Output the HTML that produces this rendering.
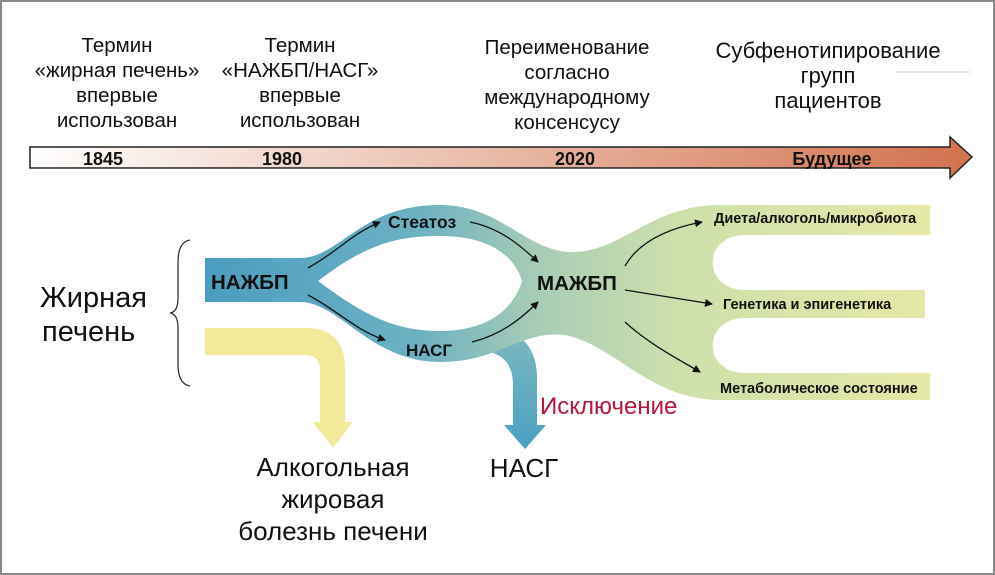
<!DOCTYPE html>
<html><head><meta charset="utf-8"><style>
html,body{margin:0;padding:0;background:#fff}
svg{display:block}
text{font-family:"Liberation Sans","DejaVu Sans",sans-serif}
</style></head><body>
<svg width="995" height="575" viewBox="0 0 995 575" xmlns="http://www.w3.org/2000/svg">
<defs>
<linearGradient id="tl" x1="0" x2="1" y1="0" y2="0">
<stop offset="0" stop-color="#ffffff"/><stop offset="0.4" stop-color="#edc7b8"/><stop offset="1" stop-color="#d2714e"/>
</linearGradient>
<linearGradient id="fl" gradientUnits="userSpaceOnUse" x1="205" x2="930" y1="0" y2="0">
<stop offset="0" stop-color="#4b9dc0"/><stop offset="0.3" stop-color="#6db2c2"/><stop offset="0.45" stop-color="#a5cbb6"/><stop offset="0.65" stop-color="#cde0ac"/><stop offset="1" stop-color="#e6e8a6"/>
</linearGradient>
<linearGradient id="ns" x1="0" x2="0" y1="0" y2="1">
<stop offset="0" stop-color="#7cb8c0"/><stop offset="1" stop-color="#4aa0c2"/>
</linearGradient>
<marker id="ah" markerWidth="8" markerHeight="8" refX="7" refY="4" orient="auto" markerUnits="userSpaceOnUse">
<path d="M0,0 L8,4 L0,8 Z" fill="#111"/>
</marker>
</defs>
<rect x="1" y="1" width="993" height="573" fill="#fff" stroke="#888" stroke-width="2"/>

<g font-size="20.5" fill="#111" text-anchor="middle">
<text x="117" y="52">Термин</text><text x="117" y="77">«жирная печень»</text><text x="117" y="102">впервые</text><text x="117" y="127">использован</text>
<text x="300" y="52">Термин</text><text x="300" y="77">«НАЖБП/НАСГ»</text><text x="300" y="102">впервые</text><text x="300" y="127">использован</text>
<text x="567" y="54">Переименование</text><text x="567" y="79">согласно</text><text x="567" y="104">международному</text><text x="567" y="129">консенсусу</text>
<text x="828" y="58" font-size="22">Субфенотипирование</text><text x="828" y="83" font-size="22">групп</text><text x="828" y="108" font-size="22">пациентов</text>
</g>
<line x1="895" y1="72" x2="970" y2="72" stroke="#ccc" stroke-width="1"/>

<path d="M30,147 L950,147 L950,137 L972,157 L950,178 L950,168 L30,168 Z" fill="url(#tl)" stroke="#222" stroke-width="1.5"/>
<g font-size="18" font-weight="bold" fill="#111" text-anchor="middle">
<text x="103" y="165">1845</text><text x="282" y="165">1980</text><text x="575" y="165">2020</text><text x="832" y="165">Будущее</text>
</g>

<path d="M205,328 L305,328 Q345,328 345,368 L345,422 L353,422 L333,448 L313,422 L320,422 L320,370 Q320,355 305,355 L205,355 Z" fill="#f3e99a"/>
<path d="M490,352 Q513,358 513,385 L513,425 L504,425 L525,449 L546,425 L537,425 L537,378 Q537,345 512,332 Z" fill="url(#ns)"/>

<path d="M205,258 L300,258 C340,258 360,205 440,205 C500,205 525,250 570,252 C620,254 650,205 720,205 L930,205 L930,400 L720,400 C650,400 615,345 565,335 C520,330 500,362 440,362 C370,362 340,302 300,302 L205,302 Z" fill="url(#fl)"/>
<path d="M318,281 C365,245 395,236 440,236 C492,236 515,258 522,281 C515,305 492,331 440,331 C395,331 365,316 318,281 Z" fill="#fff"/>
<path d="M935,235 L745,235 C702,235 702,290 745,290 L935,290 Z" fill="#fff"/>
<path d="M935,318 L745,318 C702,318 702,373 745,373 L935,373 Z" fill="#fff"/>
<rect x="925" y="290" width="12" height="28" fill="#fff"/>

<path d="M190,240 Q178,242 178,262 L178,298 Q178,312 170,313 Q178,314 178,328 L178,364 Q178,384 190,386" fill="none" stroke="#333" stroke-width="1.3"/>

<g fill="none" stroke="#111" stroke-width="1.3" marker-end="url(#ah)">
<path d="M308,268 C340,250 350,235 380,222"/>
<path d="M470,222 C500,228 520,245 538,262"/>
<path d="M308,295 C340,312 355,330 385,340"/>
<path d="M472,342 C500,335 520,320 538,302"/>
<path d="M625,266 C640,240 670,228 702,222"/>
<path d="M625,290 L712,304"/>
<path d="M625,322 C650,345 680,360 700,372"/>
</g>

<g font-weight="bold" fill="#111">
<text x="211" y="289" font-size="20.5">НАЖБП</text>
<text x="388" y="228" font-size="17.5">Стеатоз</text>
<text x="406" y="356" font-size="17">НАСГ</text>
<text x="537" y="290" font-size="20.5">МАЖБП</text>
<text x="714" y="223" font-size="14.5">Диета/алкоголь/микробиота</text>
<text x="723" y="309" font-size="14.5">Генетика и эпигенетика</text>
<text x="720" y="393" font-size="14.5">Метаболическое состояние</text>
</g>

<g font-size="26" fill="#111">
<text x="40" y="307" font-size="29">Жирная</text><text x="42" y="341" font-size="29">печень</text>
<g text-anchor="middle"><text x="333" y="476">Алкогольная</text><text x="333" y="508">жировая</text><text x="333" y="540">болезнь печени</text>
<text x="524" y="477">НАСГ</text></g>
</g>
<text x="540" y="414" font-size="24" fill="#b5153a">Исключение</text>
</svg>
</body></html>
